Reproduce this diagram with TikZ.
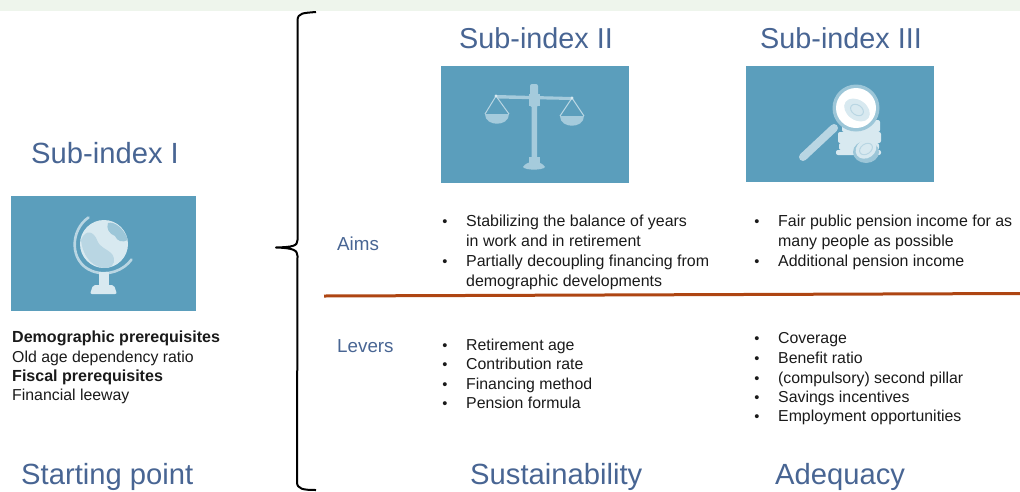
\documentclass[tikz,border=0pt]{standalone}
\usepackage{fontspec}
\setmainfont{Liberation Sans}
\definecolor{titleblue}{HTML}{486593}
\definecolor{tile}{HTML}{5B9EBC}
\definecolor{band}{HTML}{EEF5EC}
\definecolor{rulebrown}{HTML}{AE4512}
\definecolor{bodytext}{HTML}{1A1A1A}
\definecolor{iconA}{HTML}{D8E9F0}
\definecolor{iconB}{HTML}{B9D6E3}
\definecolor{iconC}{HTML}{9CC6D8}
\definecolor{scaleA}{HTML}{A5CBDC}
\tikzset{
  x=1pt,y=-1pt,
  bigtitle/.style={anchor=base west,inner sep=0pt,text=titleblue,font=\fontsize{28.8}{30}\selectfont},
  widetitle/.style={bigtitle,font=\fontsize{29.2}{30}\selectfont},
  sidelabel/.style={anchor=base west,inner sep=0pt,text=titleblue,font=\fontsize{18.8}{20}\selectfont},
  bodyline/.style={anchor=base west,inner sep=0pt,text=bodytext,font=\fontsize{15.95}{18}\selectfont},
  leverline/.style={bodyline,font=\fontsize{15.85}{18}\selectfont},
  boldline/.style={bodyline,font=\fontsize{16.05}{18}\selectfont\bfseries},
  bulletmark/.style={anchor=base,inner sep=0pt,text=bodytext,font=\fontsize{14.6}{16}\selectfont},
  tilebox/.style={fill=tile,draw=none},
}
\newcommand{\itemline}[4]{%
  \node[bulletmark] (#4b) at (#1-21,#2) {•};
  \node[bodyline] (#4) at (#1,#2) {#3};}
\newcommand{\leveritem}[4]{%
  \node[bulletmark] (#4b) at (#1-21,#2) {•};
  \node[leverline] (#4) at (#1,#2) {#3};}
\begin{document}
\begin{tikzpicture}
\useasboundingbox (0,0) rectangle (1020,491);
\fill[band] (0,0) rectangle (1020,11);

% titles
\node[widetitle] (subI) at (31,163) {Sub-index I};
\node[bigtitle] (subII) at (459,48) {Sub-index II};
\node[bigtitle] (subIII) at (760,48) {Sub-index III};
\node[widetitle] (start) at (21,484) {Starting point};
\node[widetitle] (sust) at (470,484.5) {Sustainability};
\node[widetitle] (adeq) at (775,484.5) {Adequacy};

% tiles
\fill[tilebox] (11,196) rectangle (196,311);
\fill[tilebox] (441,66) rectangle (629,183);
\fill[tilebox] (746,66) rectangle (934,182);

% globe
\begin{scope}
\draw[iconB,line width=2.6pt,line cap=round] (88.5,217.5) .. controls (70,230) and (69,262) .. (92,271) .. controls (108,277) and (124,270) .. (131.5,259.5);
\fill[iconA] (104,244) circle[radius=24];
\fill[iconB] (81,240) .. controls (86,228) and (94,232) .. (97,240) .. controls (100,248) and (106,248) .. (112,254) .. controls (116,260) and (114,266) .. (108,268) .. controls (94,269) and (83,258) .. (81,240) -- cycle;
\fill[iconC] (108,223) .. controls (114,221) and (124,228) .. (128,240) .. controls (122,243) and (117,241) .. (115,236) .. controls (109,234) and (106,228) .. (108,223) -- cycle;
\fill[iconA] (99,272) rectangle (109,286);
\fill[iconA,rounded corners=2pt] (90,294) -- (93,285) -- (114,285) -- (117,294) -- cycle;
\end{scope}

% scales
\begin{scope}
\fill[scaleA,rounded corners=1pt] (531.5,88) rectangle (537,160);
\fill[scaleA,rounded corners=2pt] (530,84) rectangle (538,107);
\fill[scaleA] (497,95) -- (572,97) -- (572,100) -- (497,98.5) -- cycle;
\fill[scaleA] (529,94) rectangle (540,106);
\draw[iconB,line width=1pt] (496,96) -- (485,114) (496,96) -- (509,114);
\draw[iconB,line width=1pt] (572,98) -- (560,116) (572,98) -- (584,116);
\fill[scaleA] (485,114) -- (509,114) .. controls (509,127) and (485,127) .. (485,114) -- cycle;
\fill[scaleA] (560,116) -- (584,116) .. controls (584,129) and (560,129) .. (560,116) -- cycle;
\fill[iconA] (496,96) circle[radius=1.7];
\fill[iconA] (572,98) circle[radius=1.7];
\fill[scaleA] (529,157) rectangle (540,163);
\fill[scaleA] (523,167) .. controls (527,160) and (541,160) .. (545,167) .. controls (543,170.5) and (525,170.5) .. (523,167) -- cycle;
\end{scope}

% magnifier
\begin{scope}
\fill[iconA,rounded corners=2pt] (842,120) rectangle (880,132);
\fill[iconA,rounded corners=2pt] (838,132) rectangle (881,143);
\fill[iconA,rounded corners=2pt] (839,143) rectangle (879,150);
\fill[iconA,rounded corners=2pt] (836,150) rectangle (881,155);
\fill[iconC] (866,152) ellipse[x radius=13,y radius=11];
\fill[iconA,rotate around={35:(866,149)}] (866,149) ellipse[x radius=11,y radius=9];
\draw[iconB,line width=1pt,rotate around={35:(866,149)}] (866,149) ellipse[x radius=7,y radius=5];
\draw[iconB,line width=8pt,line cap=round] (803,157) -- (834,128);
\fill[iconC] (856,108) circle[radius=23.5];
\fill[white] (856,108) circle[radius=20];
\fill[iconA,rotate around={-35:(857,110)}] (857,110) ellipse[x radius=14,y radius=10];
\draw[iconB,line width=1pt,rotate around={-35:(857,110)}] (857,110) ellipse[x radius=7,y radius=5];
\end{scope}

% left block
\node[boldline] (demo) at (12,342) {Demographic prerequisites};
\node[leverline] (oldage) at (12,362) {Old age dependency ratio};
\node[boldline] (fiscal) at (12,381) {Fiscal prerequisites};
\node[leverline] (leeway) at (12,400) {Financial leeway};

% side labels
\node[sidelabel] (aims) at (337,250) {Aims};
\node[sidelabel] (levers) at (337,352) {Levers};

% aims
\itemline{466}{226}{Stabilizing the balance of years}{a1}
\node[bodyline] (a1c) at (466,246) {in work and in retirement};
\itemline{466}{266}{Partially decoupling financing from}{a2}
\node[bodyline] (a2c) at (466,286) {demographic developments};
\itemline{778}{226}{Fair public pension income for as}{b1}
\node[bodyline] (b1c) at (778,246) {many people as possible};
\itemline{778}{266}{Additional pension income}{b2}

% levers
\leveritem{466}{350}{Retirement age}{c1}
\leveritem{466}{369}{Contribution rate}{c2}
\leveritem{466}{389}{Financing method}{c3}
\leveritem{466}{408}{Pension formula}{c4}
\leveritem{778}{343}{Coverage}{d1}
\leveritem{778}{363}{Benefit ratio}{d2}
\leveritem{778}{383}{(compulsory) second pillar}{d3}
\leveritem{778}{402}{Savings incentives}{d4}
\leveritem{778}{421}{Employment opportunities}{d5}

% rule
\coordinate (ruleL) at (324,296);
\coordinate (ruleR) at (1020,293.5);
\draw[rulebrown,line width=3pt] (ruleL) -- (ruleR);

% brace
\draw[black,line width=2pt,line join=round]
  (316,12) .. controls (303,13) and (298,13) .. (297.5,20)
  -- (297.5,240) .. controls (297.5,246) and (293,247) .. (276,247.5)
  .. controls (293,248) and (297.5,250) .. (297.5,256)
  -- (297,482) .. controls (297,489) and (303,490) .. (316,490);
\end{tikzpicture}
\end{document}
